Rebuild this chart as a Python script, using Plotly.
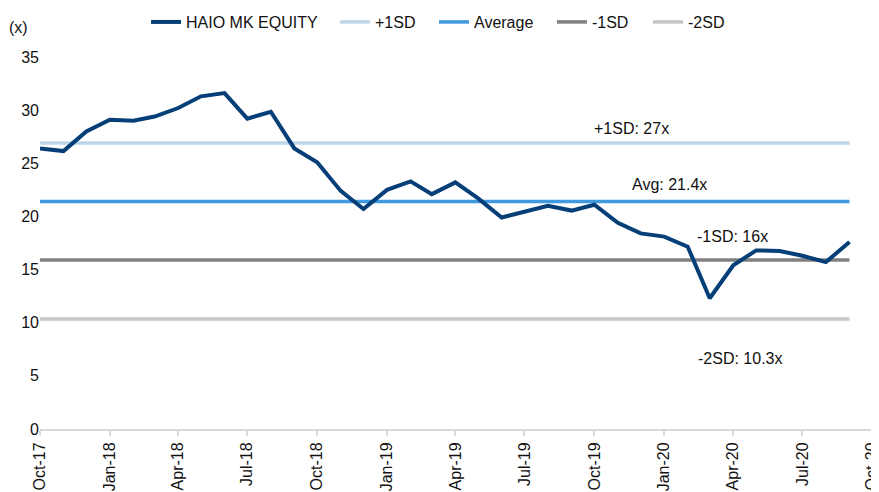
import plotly.graph_objects as go
import pandas as pd

dates = pd.date_range("2017-10-01", "2020-09-01", freq="MS").strftime("%Y-%m-%d").tolist()
haio = [26.4, 26.15, 28.0, 29.1, 29.0, 29.4, 30.2, 31.3, 31.6, 29.2, 29.85, 26.4,
        25.1, 22.4, 20.7, 22.5, 23.3, 22.1, 23.2, 21.7, 19.9, 20.45, 21.0, 20.55,
        21.1, 19.4, 18.4, 18.1, 17.15, 12.3, 15.4, 16.8, 16.75, 16.3, 15.7, 17.6]
plus1sd = 26.9
average = 21.4
minus1sd = 15.9
minus2sd = 10.35

series_names = ["HAIO MK EQUITY", "+1SD", "Average", "-1SD", "-2SD"]
colors = ["#063f78", "#bdd6ea", "#4199de", "#808080", "#c6c6c6"]
labels = ["+1SD: 27x", "Avg: 21.4x", "-1SD: 16x", "-2SD: 10.3x"]
label_x = ["2019-11-19", "2020-01-08", "2020-03-31", "2020-04-10"]
label_y = [28.32, 22.96, 18.09, 6.65]

# The page body has an 8px margin, so the figure is sized/offset to compensate.
fig = go.Figure()
vals = [haio, [plus1sd] * len(dates), [average] * len(dates),
        [minus1sd] * len(dates), [minus2sd] * len(dates)]
legend_ids = ["legend", "legend2", "legend3", "legend4", "legend5"]
legend_x = [0.1273, 0.3541, 0.4730, 0.6146, 0.7299]
order = [1, 2, 3, 4, 0]
for i in order:
    fig.add_trace(go.Scatter(x=dates, y=vals[i], mode="lines", name=series_names[i],
                             line=dict(color=colors[i], width=4 if i == 0 else 3.5),
                             legend=legend_ids[i]))

for x, y, t in zip(label_x, label_y, labels):
    fig.add_annotation(x=x, y=y, text=t, showarrow=False, xref="x", yref="y",
                       font=dict(size=16, color="#111"))

fig.add_annotation(x=-0.0264, y=1.0806, xref="paper", yref="paper", text="(x)",
                   showarrow=False, xanchor="center", yanchor="middle",
                   font=dict(size=16, color="#111"))

legend_common = dict(orientation="h", y=1.094, xanchor="left", yanchor="middle",
                     font=dict(size=16, color="#111"), bgcolor="rgba(0,0,0,0)")
layout_legends = {}
for lid, lx in zip(legend_ids, legend_x):
    layout_legends[lid] = dict(x=lx, **legend_common)

fig.update_layout(
    width=871, height=484,
    margin=dict(l=32, r=6, t=49, b=63, autoexpand=False),
    plot_bgcolor="white", paper_bgcolor="white",
    font=dict(family="Liberation Sans, Arial, sans-serif", size=16, color="#111"),
    showlegend=True,
    xaxis=dict(type="date", range=["2017-10-01", "2020-10-02"], tick0="2017-10-01",
               dtick="M3", tickformat="%b-%y", tickangle=-90, showgrid=False,
               showline=True, linecolor="#d9d9d9", linewidth=2, ticks="outside",
               tickcolor="#d9d9d9", ticklen=5, tickwidth=2, zeroline=False,
               tickfont=dict(size=16), automargin=False, ticklabeloverflow="allow"),
    yaxis=dict(range=[0, 35], dtick=5, showgrid=False, showline=False, zeroline=False,
               tickfont=dict(size=16), ticks="", automargin=False),
    **layout_legends,
)

fig.write_html("out.html")
